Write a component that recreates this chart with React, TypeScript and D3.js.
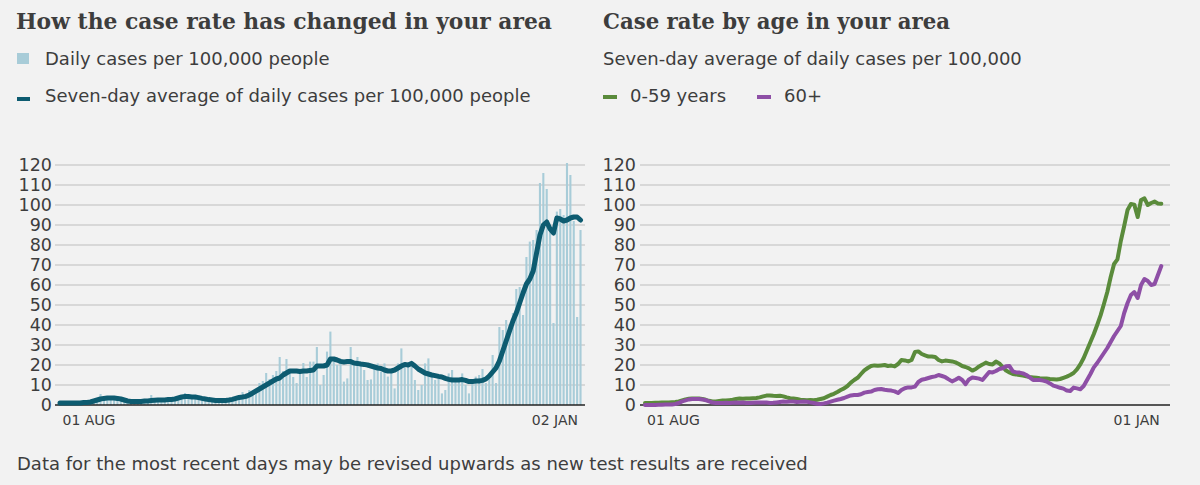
import React from 'react';
import * as d3 from 'd3';

// ---------- DATA ----------
const START_YEAR = 2020;
const START_MONTH = 7; // August (0-based)
const START_DAY = 1;

// Daily cases per 100,000 people (01 Aug 2020 – 02 Jan 2021)
const dailyCases = [
  1, 0.5, 1, 1, 0.5, 1, 1.5, 1, 0.5, 1, 1.5,
  2, 5.5, 3, 3.5, 2.5, 4, 3, 2, 2.5,
  1.5, 2, 2.5, 1.5, 2, 2, 3,
  5,
  2, 2.5, 3,
  2.5, 3, 3.5, 2, 4, 3.5,
  6,
  4.5, 4, 5, 4, 3.5,
  3, 2, 2.5, 2, 3, 2, 2.5, 3, 2, 3,
  4, 6.5, 5,
  7.5, 6, 8, 11, 12, 16, 13, 15, 17,
  24, 17, 23, 16, 14, 11, 15.5, 21, 14, 21.7, 21.7, 29, 10, 15, 26.7, 36.7, 21.7, 20, 21, 11.7,
  13.3, 29, 20.8, 24, 20, 17.5, 12.5, 12.8, 20, 20.8, 16.7, 20.8, 14.2, 17.5, 8.3, 20.8, 28.3, 20.8, 20.8, 19,
  12.5, 7.5, 10, 20.8, 23.3, 15.8, 12.5, 13.3, 5.8, 7.5, 15.8, 17.5, 12.5, 12.5, 15.8, 10, 5.8, 10.8, 14.2, 15,
  18, 11, 14, 25, 11, 39, 37.5, 42.5, 40, 46, 58, 59, 45, 74, 81.7, 82.5, 87.5, 111, 116, 108,
  88, 41, 96.7, 98, 95, 121, 115, 92, 44, 87.5,
];

// Seven-day average of daily cases per 100,000 people
const sevenDayAverage = [
  1, 1, 1, 1, 1, 1, 1, 1.2, 1.3, 1.5, 2,
  2.5, 3, 3.3, 3.5, 3.5, 3.5, 3.3, 3,
  2.5, 2, 1.8, 1.7, 1.7, 1.8, 2, 2,
  2.2, 2.4, 2.5, 2.5, 2.5, 2.7, 2.8, 3,
  3.5, 4, 4.2, 4.2, 4, 4, 3.7, 3.3,
  3, 2.7, 2.5, 2.3, 2.2, 2.2, 2.3, 2.5, 2.8,
  3.3, 3.8, 4, 4.3, 5, 6, 7,
  8, 9, 10, 11, 12, 13,
  13.5, 15, 16, 17, 17, 17, 16.8, 17, 17, 17.3, 17.5, 19.5, 19.5, 19.5, 20, 23, 23, 22.5, 21.8, 21.5,
  21.7, 21.7, 21, 20.8, 20.5, 20.3, 20, 19.5, 19, 18.5, 18.3, 17.5, 17, 17, 17.5, 18.5, 19.5, 20.3, 20, 20.8,
  19.5, 18, 17, 16, 15.5, 15, 14.7, 14.3, 14, 13.3, 12.8, 12.5, 12.5, 12.5, 12.7, 12.3, 11.7, 11.7, 12, 12,
  12.3, 13, 14.5,
  16.5, 18.5, 22, 27, 32, 37, 42, 46, 51, 56, 60.5, 63, 67, 76, 85, 90, 91.5, 88, 86, 93.5,
  93, 92, 92.5, 93.5, 94, 94, 92.5,
];

// Seven-day average by age (01 Aug 2020 – 01 Jan 2021)
const age0to59 = [
  1, 1, 1, 1.1, 1.1, 1.2, 1.2, 1.3, 1.4, 1.5, 1.8, 2.3, 2.8, 3.1, 3.3, 3.3, 3.2, 3, 2.6, 2.1,
  1.8, 1.8, 2, 2.2, 2.2, 2.4, 2.6, 3, 3.2, 3.1, 3.3, 3.2, 3.4, 3.5, 3.8, 4.3, 4.7, 4.8, 4.6, 4.5,
  4.6, 4.3, 3.8, 3.4, 3.2, 3, 2.6, 2.5, 2.4, 2.5, 2.4, 2.6, 3, 3.4, 4.2, 5, 5.6, 6.5, 7.5, 8.3,
  9.5, 11.2, 12.5, 13.6, 15.5, 17.3, 18.5, 19.5, 19.8, 19.6, 19.8, 20, 19.5, 19.7, 19.3, 20.5, 22.5, 22.3, 21.8, 22.5,
  26.5, 26.8, 25.5, 24.8, 24.2, 24.2, 24, 22.5, 21.8, 22.2, 22, 21.8, 21.3, 20.5, 19.5, 19, 18.3, 17.2, 18, 19.3,
  20.2, 21.2, 20.5, 20.3, 21.7, 20.8, 19, 17.2, 16.3, 15.5, 15.3, 15, 14.7, 14.3, 14, 13.8, 13.6, 13.4, 13.3, 13.2,
  13, 12.9, 12.8, 13, 13.6, 14.2, 15, 16, 17.8, 20.3, 23.5, 27.5, 31.5, 35.5, 40, 44.8, 50.5, 56.5, 64, 70.5,
  72.8, 82, 89.5, 97.5, 100.5, 100.2, 94, 102.5, 103.3, 100, 101, 101.7, 100.8, 100.6,
];

const age60plus = [
  0, 0, 0, 0, 0.1, 0.1, 0.2, 0.2, 0.3, 0.5, 1, 1.8, 2.3, 2.8, 3, 3, 3, 2.8, 2.4, 1.8,
  1.2, 1, 1, 1, 1.1, 1, 1.1, 1.2, 1.1, 1.2, 1, 1, 1.1, 1.2, 1.2, 1.3, 1.2, 1, 1.1, 1.3,
  1.5, 1.7, 1.6, 1.8, 1.7, 1.5, 1.6, 1.8, 1.6, 1.3, 1, 0.6, 0.5, 0.8, 1.2, 1.7, 2.2, 2.6, 3, 3.5,
  4.2, 4.8, 5, 5, 5.4, 6.2, 6.5, 6.7, 7.5, 7.9, 8, 7.6, 7.4, 7.2, 6.8, 6, 7.5, 8.4, 8.8, 8.8,
  9.2, 11.5, 12.6, 13, 13.5, 14, 14.3, 15, 14.5, 13.9, 12.8, 11.8, 12.6, 13.6, 12.5, 10.4, 12.8, 13.7, 13.5, 13.2,
  12.5, 14.5, 16.5, 16.3, 17, 18, 18.4, 19.4, 19.5, 16.8, 16.3, 16.2, 15.8, 15, 13.8, 12.5, 12.5, 12.5, 12.2, 11.7,
  10.8, 9.7, 9.2, 8.6, 8.2, 7.2, 7, 8.7, 8.3, 7.9, 9.5, 12.5, 15.5, 18.8, 21, 23.5, 26, 28.5, 31.5, 34.5,
  37, 39.5, 46, 51, 55, 56.5, 53.5, 60, 63, 62, 60, 60.5, 65, 69.5,
];

const yTicks = [0, 10, 20, 30, 40, 50, 60, 70, 80, 90, 100, 110, 120];
const leftDateLabels = ['01 AUG', '02 JAN'];
const rightDateLabels = ['01 AUG', '01 JAN'];

const leftTitle = 'How the case rate has changed in your area';
const leftLegend = ['Daily cases per 100,000 people', 'Seven-day average of daily cases per 100,000 people'];
const rightTitle = 'Case rate by age in your area';
const rightSubtitle = 'Seven-day average of daily cases per 100,000';
const rightLegend = ['0-59 years', '60+'];
const footnote = 'Data for the most recent days may be revised upwards as new test results are received';

// ---------- STYLE ----------
const BG = '#f2f2f2';
const TEXT = '#3d3d3d';
const GRID = '#cfcfcf';
const BAR = '#a8ccd8';
const TEAL = '#0d5b70';
const GREEN = '#5a8b3b';
const PURPLE = '#8e4fa6';
const SANS = '"DejaVu Sans", sans-serif';
const SERIF = '"DejaVu Serif", serif';

const dayDate = (i: number) => new Date(START_YEAR, START_MONTH, START_DAY + i);

export default function App() {
  const W = 1200;
  const H = 485;
  const yTop = 165;
  const yBottom = 405;
  const L = { x0: 55, x1: 585 };
  const R = { x0: 640, x1: 1170 };

  const y = d3.scaleLinear().domain([0, 120]).range([yBottom, yTop]);

  const leftDates = dailyCases.map((_, i) => dayDate(i));
  const leftKeys = leftDates.map((d) => d.toISOString());
  const xBand = d3
    .scaleBand<string>()
    .domain(leftKeys)
    .range([L.x0 + 3.3, L.x1 - 2.8])
    .paddingInner(0.38)
    .paddingOuter(0.19);
  const bw = xBand.bandwidth();
  const bandCenter = (i: number) => (xBand(leftKeys[i]) as number) + bw / 2;

  const avgLine = d3
    .line<number>()
    .x((_, i) => bandCenter(i))
    .y((v) => y(v))
    .curve(d3.curveLinear);

  const rightStart = dayDate(0);
  const rightEnd = dayDate(age0to59.length - 1);
  const xTime = d3.scaleTime().domain([rightStart, rightEnd]).range([R.x0 + 5, R.x1 - 8.7]);
  const ageLine = d3
    .line<number>()
    .x((_, i) => xTime(dayDate(i)))
    .y((v) => y(v))
    .curve(d3.curveLinear);

  const grid = (p: { x0: number; x1: number }, labelX: number) => (
    <g>
      {yTicks.map((t) => (
        <g key={t}>
          {t !== 0 && (
            <line x1={p.x0} x2={p.x1} y1={y(t)} y2={y(t)} stroke={GRID} strokeWidth={1.3} />
          )}
          <text
            x={labelX}
            y={y(t)}
            dy="0.36em"
            textAnchor="end"
            fontFamily={SANS}
            fontSize={17.5}
            fill={TEXT}
          >
            {t}
          </text>
        </g>
      ))}
    </g>
  );

  const axisLine = (p: { x0: number; x1: number }) => (
    <line x1={p.x0} x2={p.x1} y1={y(0)} y2={y(0)} stroke="#222" strokeWidth={1.3} />
  );

  const lastLeft = leftKeys.length - 1;
  const lastRight = age0to59.length - 1;

  return (
    <svg
      width={W}
      height={H}
      viewBox={`0 0 ${W} ${H}`}
      style={{ position: 'absolute', left: 0, top: 0, background: BG }}
    >
      <rect x={0} y={0} width={W} height={H} fill={BG} />

      {/* Left header */}
      <text x={16} y={29} fontFamily={SERIF} fontWeight={700} fontSize={22.5} fill={TEXT} textLength={536} lengthAdjust="spacingAndGlyphs">
        {leftTitle}
      </text>
      <rect x={17} y={53} width={12} height={11} fill={BAR} />
      <text x={45} y={65} fontFamily={SANS} fontSize={18} fill={TEXT}>
        {leftLegend[0]}
      </text>
      <rect x={17} y={97} width={13} height={4} fill={TEAL} />
      <text x={45} y={102} fontFamily={SANS} fontSize={18} fill={TEXT}>
        {leftLegend[1]}
      </text>

      {/* Right header */}
      <text x={603} y={29} fontFamily={SERIF} fontWeight={700} fontSize={22.5} fill={TEXT} textLength={347} lengthAdjust="spacingAndGlyphs">
        {rightTitle}
      </text>
      <text x={603} y={65} fontFamily={SANS} fontSize={18} fill={TEXT}>
        {rightSubtitle}
      </text>
      <rect x={603} y={95} width={14} height={4} fill={GREEN} />
      <text x={630} y={102} fontFamily={SANS} fontSize={18} fill={TEXT}>
        {rightLegend[0]}
      </text>
      <rect x={757} y={95} width={14} height={4} fill={PURPLE} />
      <text x={784} y={102} fontFamily={SANS} fontSize={18} fill={TEXT}>
        {rightLegend[1]}
      </text>

      {/* Left chart */}
      {grid(L, 52)}
      <g>
        {dailyCases.map((v, i) => (
          <rect
            key={i}
            x={xBand(leftKeys[i]) as number}
            y={y(v)}
            width={bw}
            height={y(0) - y(v)}
            fill={BAR}
          />
        ))}
      </g>
      {axisLine(L)}
      <path
        d={avgLine(sevenDayAverage) || ''}
        fill="none"
        stroke={TEAL}
        strokeWidth={5}
        strokeLinejoin="round"
        strokeLinecap="round"
      />
      <text x={bandCenter(0) + 2.5} y={425} fontFamily={SANS} fontSize={14} fill={TEXT}>
        {leftDateLabels[0]}
      </text>
      <text x={bandCenter(lastLeft) - 2.5} y={425} textAnchor="end" fontFamily={SANS} fontSize={14} fill={TEXT}>
        {leftDateLabels[1]}
      </text>

      {/* Right chart */}
      {grid(R, 636)}
      {axisLine(R)}
      <path
        d={ageLine(age0to59) || ''}
        fill="none"
        stroke={GREEN}
        strokeWidth={4}
        strokeLinejoin="round"
        strokeLinecap="round"
      />
      <path
        d={ageLine(age60plus) || ''}
        fill="none"
        stroke={PURPLE}
        strokeWidth={4}
        strokeLinejoin="round"
        strokeLinecap="round"
      />
      <text x={xTime(rightStart) + 2} y={425} fontFamily={SANS} fontSize={14} fill={TEXT}>
        {rightDateLabels[0]}
      </text>
      <text x={xTime(dayDate(lastRight)) - 1.5} y={425} textAnchor="end" fontFamily={SANS} fontSize={14} fill={TEXT}>
        {rightDateLabels[1]}
      </text>

      {/* Footnote */}
      <text x={17} y={470} fontFamily={SANS} fontSize={18} fill={TEXT}>
        {footnote}
      </text>
    </svg>
  );
}
